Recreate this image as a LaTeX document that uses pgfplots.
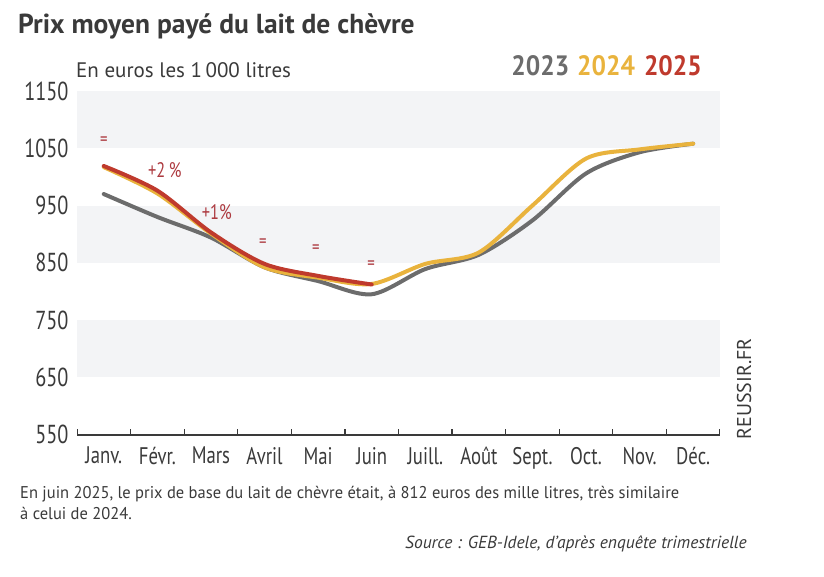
\documentclass[border=0pt]{standalone}
\usepackage{fontspec}
\setmainfont{PT Sans}
\newfontfamily\condfont{PT Sans}[FakeStretch=0.78]
\newfontfamily\legfont{PT Sans}[FakeStretch=0.91]
\newfontfamily\notefont{PT Sans}[FakeStretch=0.97]
\usepackage{pgfplots}
\pgfplotsset{compat=1.18}
\definecolor{c23}{HTML}{6C6C6C}
\definecolor{c24}{HTML}{E9B33D}
\definecolor{c25}{HTML}{BF3A2D}
\definecolor{annot}{HTML}{AD3A40}
\definecolor{band}{HTML}{F3F4F6}
\definecolor{axcol}{HTML}{3A3A3A}
\begin{document}
\begin{tikzpicture}
\useasboundingbox (0pt,0pt) rectangle (824pt,-576pt);
\begin{axis}[
  at={(77pt,-434.5pt)}, anchor=south west,
  scale only axis, width=643pt, height=343.5pt,
  xmin=-0.5, xmax=11.5, ymin=550, ymax=1150,
  axis line style={draw=none},
  xtick={0,...,11},
  xticklabels={Janv.,Févr.,Mars,Avril,Mai,Juin,Juill.,Août,Sept.,Oct.,Nov.,Déc.},
  ytick={550,650,...,1150},
  major tick length=0pt,
  tick style={draw=none},
  /pgf/number format/assume math mode=true,
  /pgf/number format/1000 sep={},
  yticklabel style={font=\condfont\fontsize{26}{26}\selectfont, text=axcol, xshift=-5pt},
  xticklabel style={font=\condfont\fontsize{24}{24}\selectfont, text=axcol, yshift=-9pt},
  clip=false,
]
\fill[band] (axis cs:-0.5,650) rectangle (axis cs:11.5,750);
\fill[band] (axis cs:-0.5,850) rectangle (axis cs:11.5,950);
\fill[band] (axis cs:-0.5,1050) rectangle (axis cs:11.5,1150);
\fill[axcol] (axis cs:-0.5,550) ++(0pt,-0.7pt) rectangle (axis cs:11.5,550);
\fill[axcol] (axis cs:-0.5,550) rectangle ++(1.3pt,5.5pt);
\fill[axcol] (axis cs:11.5,550) rectangle ++(-1.3pt,5.5pt);
\pgfplotsinvokeforeach{0.5,1.5,2.5,3.5,4.5,5.5,6.5,7.5,8.5,9.5,10.5}{
  \fill[axcol] (axis cs:#1,550) ++(-0.65pt,0pt) rectangle ++(1.3pt,5.5pt);
}
\fill[axcol] (axis cs:-0.5,550) rectangle ++(643pt,0.7pt);
\addplot[c23, line width=4pt, smooth, line cap=round] coordinates {
(0,970) (1,930) (2,894) (3,842) (4,818) (5,795) (6,839) (7,864) (8,924) (9,1006) (10,1043) (11,1058)};
\addplot[c24, line width=4pt, smooth, line cap=round] coordinates {
(0,1017) (1,971) (2,901) (3,842) (4,824) (5,813) (6,848) (7,868) (8,950) (9,1032) (10,1048) (11,1058)};
\addplot[c25, line width=4pt, smooth, line cap=round] coordinates {
(0,1019) (1,976) (2,903) (3,848) (4,827) (5,812)};
\begin{scope}[every node/.style={text=annot, font=\condfont\fontsize{21}{21}\selectfont}]
\node at (axis cs:0,1062) {\fontsize{19}{19}\selectfont =};
\node at (axis cs:1.14,1011) {+2\,\%};
\node at (axis cs:2.11,939) {+1\%};
\node at (axis cs:2.97,885) {\fontsize{19}{19}\selectfont =};
\node at (axis cs:3.96,873) {\fontsize{19}{19}\selectfont =};
\node at (axis cs:4.99,846) {\fontsize{19}{19}\selectfont =};
\end{scope}
\end{axis}
\node[anchor=base west, inner sep=0, text=axcol, font=\bfseries\fontsize{27.5}{27.5}\selectfont] at (18pt,-33pt) {Prix moyen payé du lait de chèvre};
\node[anchor=base west, inner sep=0, text=axcol, font=\fontsize{21}{21}\selectfont] at (76pt,-77pt) {En euros les 1\,000 litres};
\node[anchor=base east, inner sep=0, font=\legfont\bfseries\fontsize{28}{28}\selectfont] at (702pt,-75pt) {\textcolor{c23}{2023}\hspace{8pt}\textcolor{c24}{2024}\hspace{9pt}\textcolor{c25}{2025}};
\node[rotate=90, anchor=base, inner sep=0, text=axcol, font=\fontsize{20}{20}\selectfont] at (751pt,-389pt) {REUSSIR.FR};
\node[anchor=base west, inner sep=0, text=axcol, font=\notefont\fontsize{17}{17}\selectfont] at (20pt,-498pt) {En juin 2025, le prix de base du lait de chèvre était, à 812 euros des mille litres, très similaire};
\node[anchor=base west, inner sep=0, text=axcol, font=\notefont\fontsize{17}{17}\selectfont] at (20pt,-519pt) {à celui de 2024.};
\node[anchor=base east, inner sep=0, text=axcol, font=\itshape\fontsize{17.5}{17.5}\selectfont] at (747pt,-548pt) {Source : GEB-Idele, d'après enquête trimestrielle};
\end{tikzpicture}
\end{document}
